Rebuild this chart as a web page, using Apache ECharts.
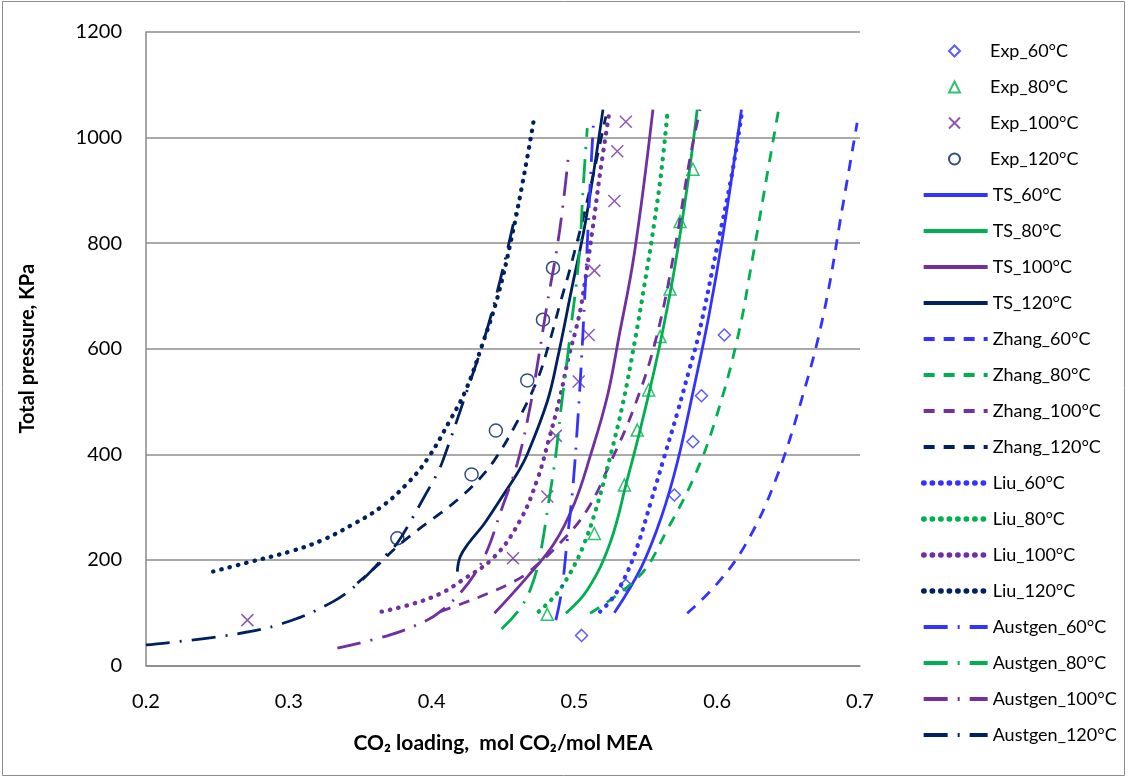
<!DOCTYPE html>
<html><head><meta charset="utf-8">
<script src="https://cdn.jsdelivr.net/npm/echarts@6/dist/echarts.min.js"></script>
<style>html,body{margin:0;padding:0;background:#fff}#c{width:1128px;height:778px}</style>
</head><body><div id="c"></div>
<script>
// ---- data (CO2 loading, total pressure kPa) ----
const xTicks = [0.2, 0.3, 0.4, 0.5, 0.6, 0.7];
const yTicks = [0, 200, 400, 600, 800, 1000, 1200];

const exp60  = [[0.505,57],[0.536,152],[0.570,323],[0.583,424],[0.589,511],[0.605,626]];
const exp80  = [[0.481,97],[0.514,250],[0.535,342],[0.544,446],[0.552,522],[0.560,623],[0.567,713],[0.574,841],[0.583,940]];
const exp100 = [[0.271,86],[0.457,203],[0.481,320],[0.487,435],[0.503,538],[0.510,626],[0.514,748],[0.528,880],[0.530,974],[0.536,1030]];
const exp120 = [[0.376,241],[0.428,362],[0.445,445],[0.467,540],[0.478,655],[0.485,753]];

const ts60  = [[0.528,100],[0.547,187],[0.561,282],[0.572,384],[0.584,530],[0.594,660],[0.604,815],[0.617,1053]];
const ts80  = [[0.494,99],[0.509,143],[0.525,232],[0.537,352],[0.546,446],[0.556,560],[0.562,636],[0.570,750],[0.579,907],[0.586,1053]];
const ts100 = [[0.444,99],[0.467,168],[0.486,232],[0.500,307],[0.511,396],[0.523,509],[0.531,620],[0.542,781],[0.555,1053]];
const ts120 = [[0.418,178],[0.420,206],[0.426,232],[0.437,269],[0.448,314],[0.460,364],[0.467,400],[0.481,500],[0.488,579],[0.498,712],[0.508,844],[0.520,1053]];

const zhang60  = [[0.579,99],[0.600,155],[0.620,230],[0.640,345],[0.660,512],[0.675,672],[0.688,872],[0.698,1028]];
const zhang80  = [[0.511,99],[0.546,171],[0.565,257],[0.584,358],[0.598,459],[0.614,617],[0.625,775],[0.635,930],[0.643,1053]];
const zhang100 = [[0.406,102],[0.422,118],[0.440,137],[0.456,157],[0.467,175],[0.490,232],[0.509,295],[0.525,383],[0.542,490],[0.557,617],[0.570,785],[0.581,962],[0.588,1053]];
const zhang120 = [[0.348,156],[0.361,187],[0.375,223],[0.390,256],[0.406,288],[0.419,316],[0.433,352],[0.444,389],[0.458,452],[0.474,541],[0.483,617],[0.490,686],[0.497,752],[0.509,880],[0.522,1040]];

const liu60  = [[0.518,102],[0.526,125],[0.535,165],[0.544,225],[0.554,314],[0.563,396],[0.572,478],[0.581,566],[0.587,626],[0.600,794],[0.610,926],[0.617,1042]];
const liu80  = [[0.475,102],[0.487,134],[0.497,175],[0.506,225],[0.515,295],[0.525,395],[0.534,497],[0.542,610],[0.549,720],[0.556,840],[0.561,939],[0.565,1042]];
const liu100 = [[0.365,102],[0.387,117],[0.406,136],[0.420,159],[0.444,206],[0.462,275],[0.474,352],[0.482,427],[0.490,509],[0.496,585],[0.501,636],[0.505,686],[0.513,832],[0.518,933],[0.524,1040]];
const liu120 = [[0.247,178],[0.271,195],[0.301,216],[0.323,237],[0.344,266],[0.364,299],[0.382,342],[0.397,391],[0.413,465],[0.424,522],[0.435,604],[0.446,696],[0.456,810],[0.465,933],[0.472,1040]];

const austgen60  = [[0.487,86],[0.491,140],[0.495,238],[0.499,340],[0.502,450],[0.505,580],[0.508,740],[0.511,910],[0.5135,1037]];
const austgen80  = [[0.449,69],[0.462,108],[0.470,150],[0.476,210],[0.482,310],[0.487,400],[0.491,495],[0.495,580],[0.498,650],[0.501,715],[0.504,800],[0.506,900],[0.509,1018]];
const austgen100 = [[0.334,33],[0.371,58],[0.397,86],[0.406,102],[0.420,137],[0.432,181],[0.440,225],[0.448,288],[0.460,383],[0.469,490],[0.475,585],[0.481,686],[0.488,794],[0.493,895],[0.496,972]];
const austgen120 = [[0.200,39],[0.259,58],[0.296,80],[0.331,121],[0.350,159],[0.368,209],[0.376,232],[0.385,272],[0.396,325],[0.404,364],[0.408,389],[0.425,522],[0.437,620],[0.448,730],[0.460,870]];

// ---- styles ----
const BLUE = '#3333FF', GREEN = '#00B050', PURPLE = '#7030A0', NAVY = '#002060';
const FONT = 'Lato, "Open Sans", sans-serif';
const DASH = [11, 9];
const DOT = [0.5, 8];
const DASHDOT = [24, 10, 2, 10];

function scatter(name, data, color, symbol, size) {
  return { name, type: 'scatter', data, symbol, symbolSize: size, z: 1,
    itemStyle: { color: 'rgba(255,255,255,0)', borderColor: color, borderWidth: 1.5 } };
}
function line(name, data, color, type, width) {
  return { name, type: 'line', data, symbol: 'none', showSymbol: false, smooth: 0.4,
    z: 2,
    lineStyle: { color, width: width || 2.8, type, cap: type === DOT ? 'round' : 'butt' },
    itemStyle: { color } };
}

const scatterSeries = [
  scatter('Exp_60°C', exp60, BLUE, 'diamond', 12),
  scatter('Exp_80°C', exp80, GREEN, 'triangle', 12),
  scatter('Exp_100°C', exp100, PURPLE, 'path://M0,0L10,10M10,0L0,10', 12),
  scatter('Exp_120°C', exp120, NAVY, 'circle', 13)
];
const lineSeries = [
  line('TS_60°C', ts60, BLUE, 'solid'),
  line('TS_80°C', ts80, GREEN, 'solid'),
  line('TS_100°C', ts100, PURPLE, 'solid'),
  line('TS_120°C', ts120, NAVY, 'solid'),
  line('Zhang_60°C', zhang60, BLUE, DASH),
  line('Zhang_80°C', zhang80, GREEN, DASH),
  line('Zhang_100°C', zhang100, PURPLE, DASH),
  line('Zhang_120°C', zhang120, NAVY, DASH),
  line('Liu_60°C', liu60, BLUE, DOT, 4.3),
  line('Liu_80°C', liu80, GREEN, DOT, 4.3),
  line('Liu_100°C', liu100, PURPLE, DOT, 4.3),
  line('Liu_120°C', liu120, NAVY, DOT, 4.3),
  line('Austgen_60°C', austgen60, BLUE, DASHDOT),
  line('Austgen_80°C', austgen80, GREEN, DASHDOT),
  line('Austgen_100°C', austgen100, PURPLE, DASHDOT),
  line('Austgen_120°C', austgen120, NAVY, DASHDOT)
];
const series = scatterSeries.concat(lineSeries);

const legendText = { fontFamily: FONT, fontSize: 18, color: '#000', lineHeight: 18 };

const chart = echarts.init(document.getElementById('c'), null, { renderer: 'canvas' });
chart.setOption({
  animation: false,
  backgroundColor: '#fff',
  textStyle: { fontFamily: FONT },
  graphic: [{ type: 'rect', shape: { x: 2.5, y: 1.5, width: 1122, height: 774 },
    style: { fill: 'none', stroke: '#8c8c8c', lineWidth: 1 }, silent: true, z: -10 }],
  grid: { left: 146, right: 268, top: 32, bottom: 112.5, containLabel: false },
  legend: [{
    orient: 'vertical', left: 943, top: 37, itemWidth: 11, itemHeight: 11, itemGap: 18,
    textStyle: Object.assign({ padding: [0, 0, 0, 25] }, legendText),
    data: scatterSeries.map(s => s.name)
  }, {
    orient: 'vertical', left: 916, top: 37 + 4 * 36, itemWidth: 64, itemHeight: 11, itemGap: 18,
    textStyle: legendText,
    data: lineSeries.map(s => ({ name: s.name, itemStyle: { opacity: 0 },
      lineStyle: { width: s.lineStyle.width + 1 } }))
  }],
  xAxis: {
    type: 'value', min: xTicks[0], max: xTicks[xTicks.length - 1], interval: 0.1,
    name: 'CO₂ loading,  mol CO₂/mol MEA', nameLocation: 'middle', nameGap: 67,
    nameTextStyle: { fontFamily: FONT, fontSize: 21, fontWeight: 'bold', color: '#000' },
    axisLine: { show: true, lineStyle: { color: '#888', width: 1.5 } },
    axisTick: { show: false },
    splitLine: { show: false },
    axisLabel: { fontFamily: FONT, fontSize: 20, color: '#000', margin: 26,
      formatter: v => v.toFixed(1) }
  },
  yAxis: {
    type: 'value', min: yTicks[0], max: yTicks[yTicks.length - 1], interval: 200,
    name: 'Total pressure, KPa', nameLocation: 'middle', nameGap: 108, nameRotate: 90,
    nameTextStyle: { fontFamily: FONT, fontSize: 20, fontWeight: 'bold', color: '#000' },
    axisLine: { show: true, lineStyle: { color: '#888', width: 1.5 } },
    axisTick: { show: false },
    splitLine: { show: true, lineStyle: { color: '#8c8c8c', width: 1.5 } },
    axisLabel: { fontFamily: FONT, fontSize: 20, color: '#000', margin: 24,
      formatter: v => String(v) }
  },
  series
});
</script>
</body></html>
